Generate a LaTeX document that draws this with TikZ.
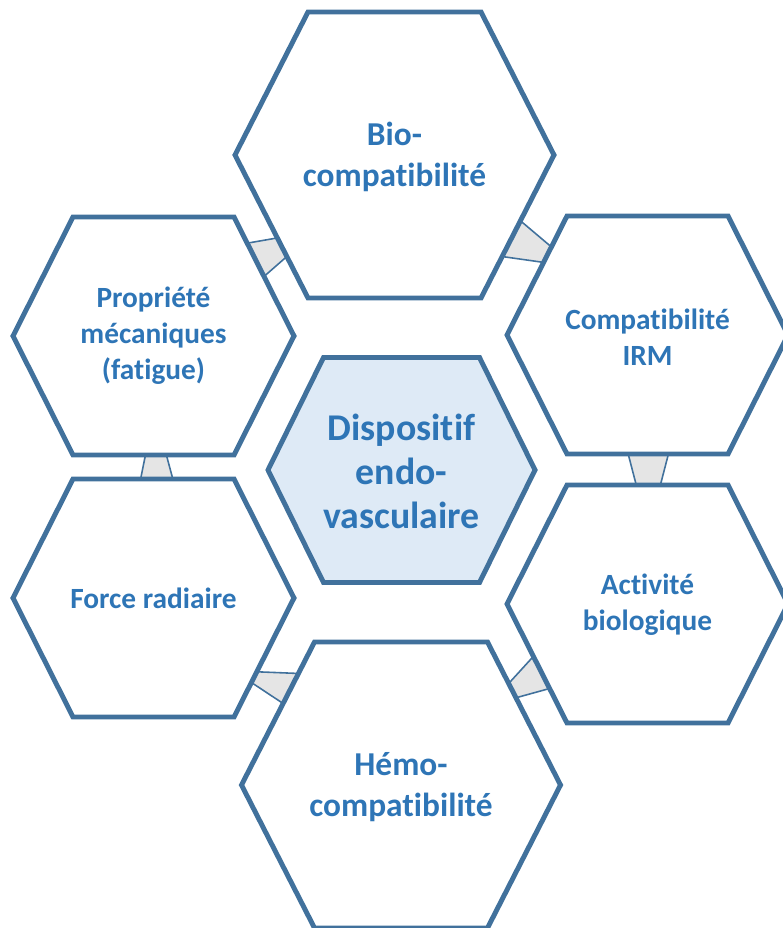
\documentclass[tikz,border=0pt]{standalone}
\usepackage{fontspec}
\setmainfont[Ligatures=NoCommon]{Carlito}
\usetikzlibrary{calc}

\definecolor{hexline}{RGB}{65,113,156}
\definecolor{hextext}{RGB}{46,117,182}
\definecolor{hexfill}{RGB}{222,234,246}
\definecolor{linkfill}{RGB}{229,229,229}

% corners of a hexagon: name, cx, cy, half width, slant, half height
\newcommand{\hexcorners}[6]{%
	\coordinate (#1-l)  at (#2-#4, #3);
	\coordinate (#1-tl) at (#2-#4+#5, #3-#6);
	\coordinate (#1-tr) at (#2+#4-#5, #3-#6);
	\coordinate (#1-r)  at (#2+#4, #3);
	\coordinate (#1-br) at (#2+#4-#5, #3+#6);
	\coordinate (#1-bl) at (#2-#4+#5, #3+#6);
}

\begin{document}
\begin{tikzpicture}[
				x=0.02cm, y=-0.02cm,
				hexbox/.style={
					draw=hexline, line width=2.8pt, line join=miter
				},
				centerbox/.style={
					hexbox, fill=hexfill
				},
				link/.style={
					draw=hexline, line width=0.9pt, fill=linkfill, line join=round
				},
				label/.style={
					align=center, text=hextext,
					font=\fontsize{16.7}{20.4}\selectfont\bfseries
				},
				widelabel/.style={
					label, font=\fontsize{19}{23}\selectfont\bfseries
				},
				biglabel/.style={
					label, font=\fontsize{21.5}{25}\selectfont\bfseries
				},
				]
				
				\useasboundingbox (0,0) rectangle (782,928);
				
				%hexagons
				\hexcorners{bio}{394.5}{155}{159.5}{73}{143}
				\hexcorners{hemo}{401}{785}{159.5}{73}{143}
				\hexcorners{prop}{153.5}{336}{140.5}{60}{119}
				\hexcorners{irm}{647.5}{335}{140.5}{60}{119}
				\hexcorners{force}{153.5}{598}{140.5}{60}{119}
				\hexcorners{bioact}{647.5}{604}{140.5}{60}{119}
				\hexcorners{dispo}{401.5}{470}{133.5}{55.5}{112.5}
				
				%links
				\draw[link] ($(prop-tr)!0.22!(prop-r)$) -- ($(bio-l)!0.58!(bio-bl)$)
					-- ($(bio-l)!0.71!(bio-bl)$) -- ($(prop-tr)!0.50!(prop-r)$) -- cycle;
				\draw[link] ($(bio-r)!0.46!(bio-br)$) -- ($(irm-tl)!0.26!(irm-l)$)
					-- ($(irm-tl)!0.39!(irm-l)$) -- ($(bio-r)!0.71!(bio-br)$) -- cycle;
				\draw[link] ($(irm-bl)!0.38!(irm-br)$) -- ($(irm-bl)!0.63!(irm-br)$)
					-- ($(bioact-tl)!0.58!(bioact-tr)$) -- ($(bioact-tl)!0.43!(bioact-tr)$) -- cycle;
				\draw[link] ($(bioact-l)!0.44!(bioact-bl)$) -- ($(bioact-l)!0.71!(bioact-bl)$)
					-- ($(hemo-tr)!0.39!(hemo-r)$) -- ($(hemo-tr)!0.29!(hemo-r)$) -- cycle;
				\draw[link] ($(force-r)!0.62!(force-br)$) -- ($(hemo-tl)!0.22!(hemo-l)$)
					-- ($(hemo-tl)!0.43!(hemo-l)$) -- ($(force-r)!0.71!(force-br)$) -- cycle;
				\draw[link] ($(prop-bl)!0.45!(prop-br)$) -- ($(prop-bl)!0.58!(prop-br)$)
					-- ($(force-tl)!0.62!(force-tr)$) -- ($(force-tl)!0.42!(force-tr)$) -- cycle;
				
				\foreach \h in {bio,hemo,prop,irm,force,bioact}
					\draw[hexbox] (\h-l) -- (\h-tl) -- (\h-tr) -- (\h-r) -- (\h-br) -- (\h-bl) -- cycle;
				\draw[centerbox] (dispo-l) -- (dispo-tl) -- (dispo-tr) -- (dispo-r) -- (dispo-br) -- (dispo-bl) -- cycle;
				
				%texts
				\node[widelabel] (biotext) at (394.5,157) {Bio-\\compatibilité};
				\node[label] (proptext) at (153.5,336) {Propriété\\mécaniques\\(fatigue)};
				\node[label] (irmtext) at (647.5,337) {Compatibilité\\IRM};
				\node[biglabel] (dispotext) at (401.5,471) {Dispositif\\endo-\\vasculaire};
				\node[label] (forcetext) at (153.5,598) {Force radiaire};
				\node[label] (bioacttext) at (647.5,605) {Activité\\biologique};
				\node[widelabel] (hemotext) at (401,787) {Hémo-\\compatibilité};
			\end{tikzpicture}
\end{document}
